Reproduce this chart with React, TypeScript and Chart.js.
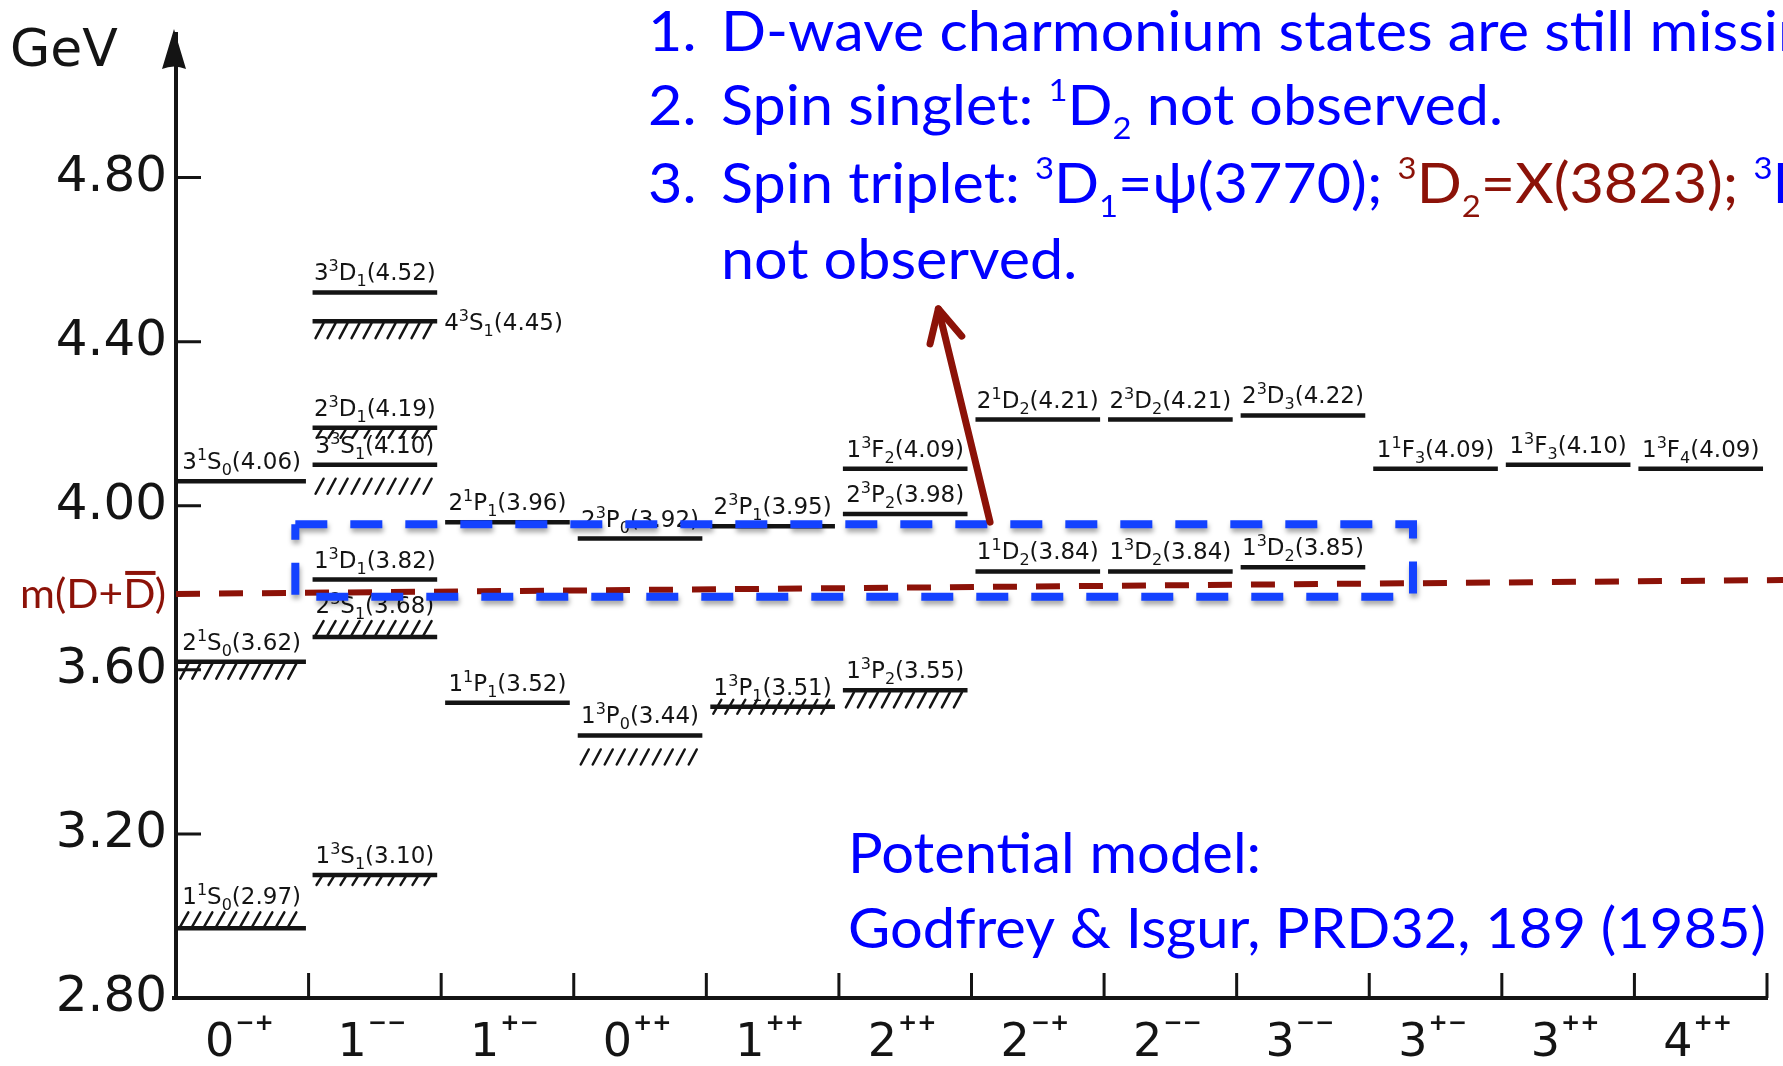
import React, { useEffect, useRef } from "react";
import { Chart, registerables } from "chart.js";

Chart.register(...registerables);

// ---------- data ----------
const jpcNumbers = ["0", "1", "1", "0", "1", "2", "2", "2", "3", "3", "3", "4"];
const jpcSigns = ["−+", "−−", "+−", "++", "++", "++", "−+", "−−", "−−", "+−", "++", "++"];

const yTickValues = [2.8, 3.2, 3.6, 4.0, 4.4, 4.8];
const yTickLabels = ["2.80", "3.20", "3.60", "4.00", "4.40", "4.80"];
const yAxisMax = 5.15;

const levelColumns = [0, 0, 0, 1, 1, 1, 1, 1, 1, 1, 2, 2, 3, 3, 4, 4, 5, 5, 5, 6, 6, 7, 7, 8, 8, 9, 10, 11];
const levelMasses = [
  2.97, 3.62, 4.06,
  3.10, 3.68, 3.82, 4.10, 4.19, 4.45, 4.52,
  3.52, 3.96,
  3.44, 3.92,
  3.51, 3.95,
  3.55, 3.98, 4.09,
  3.84, 4.21,
  3.84, 4.21,
  3.85, 4.22,
  4.09, 4.10, 4.09,
];
const levelLabels = [
  "1^1S_0(2.97)", "2^1S_0(3.62)", "3^1S_0(4.06)",
  "1^3S_1(3.10)", "2^3S_1(3.68)", "1^3D_1(3.82)", "3^3S_1(4.10)", "2^3D_1(4.19)", "4^3S_1(4.45)", "3^3D_1(4.52)",
  "1^1P_1(3.52)", "2^1P_1(3.96)",
  "1^3P_0(3.44)", "2^3P_0(3.92)",
  "1^3P_1(3.51)", "2^3P_1(3.95)",
  "1^3P_2(3.55)", "2^3P_2(3.98)", "1^3F_2(4.09)",
  "1^1D_2(3.84)", "2^1D_2(4.21)",
  "1^3D_2(3.84)", "2^3D_2(4.21)",
  "1^3D_2(3.85)", "2^3D_3(4.22)",
  "1^1F_3(4.09)", "1^3F_3(4.10)", "1^3F_4(4.09)",
];
const levelHatch = [
  "above", "below", "none",
  "belowShort", "above", "none", "belowGap", "belowShort", "below", "none",
  "none", "none",
  "belowGap", "none",
  "cross", "none",
  "below", "none", "none",
  "none", "none",
  "none", "none",
  "none", "none",
  "none", "none", "none",
];
const levelLabelSide = levelLabels.map((l) => (l === "4^3S_1(4.45)" ? "right" : "above"));

// m(D + Dbar) threshold (drawn slightly tilted as in the scan)
const thresholdX = [0, 12.13];
const thresholdY = [3.785, 3.819];

// highlighted 1D box and arrow (data units)
const boxX = [0.9, 9.33];
const boxY = [3.778, 3.955];
const arrowX = [6.14, 5.75];
const arrowY = [3.96, 4.48];

// notes
const INK = "#141414";
const BLUE_TEXT = "#0000ff";
const BOX_BLUE = "#1442ff";
const DARK_RED = "#8c1208";

const noteNumbers = ["1.", "2.", "3.", ""];
const noteLines: Array<Array<[string, string]>> = [
  [["D-wave charmonium states are still missing.", BLUE_TEXT]],
  [["Spin singlet: ^1D_2 not observed.", BLUE_TEXT]],
  [["Spin triplet: ^3D_1=ψ(3770); ", BLUE_TEXT], ["^3D_2=X(3823);", DARK_RED], [" ^3D_3", BLUE_TEXT]],
  [["not observed.", BLUE_TEXT]],
];
const modelLines = ["Potential model:", "Godfrey & Isgur, PRD32, 189 (1985)"];
const thresholdLabel = "m(D+D)";

// ---------- rich text helpers ----------
type Seg = { t: string; mode: number };
function parseRich(s: string): Seg[] {
  const out: Seg[] = [];
  for (let i = 0; i < s.length; i++) {
    const c = s[i];
    if ((c === "^" || c === "_") && i + 1 < s.length) {
      out.push({ t: s[i + 1], mode: c === "^" ? 1 : 2 });
      i++;
    } else {
      const last = out[out.length - 1];
      if (last && last.mode === 0) last.t += c;
      else out.push({ t: c, mode: 0 });
    }
  }
  return out;
}
interface RichStyle {
  family: string;
  weight: string;
  size: number;
  small: number;
  rise: number;
  drop: number;
  sx: number;
}
function fontOf(st: RichStyle, small: boolean) {
  return `${st.weight} ${small ? st.small : st.size}px ${st.family}`;
}
function measurePieces(ctx: CanvasRenderingContext2D, pieces: Array<[string, string]>, st: RichStyle) {
  let w = 0;
  for (const [txt] of pieces)
    for (const sg of parseRich(txt)) {
      ctx.font = fontOf(st, sg.mode !== 0);
      w += ctx.measureText(sg.t).width;
    }
  return w;
}
function drawRich(
  ctx: CanvasRenderingContext2D,
  pieces: Array<[string, string]>,
  x: number,
  y: number,
  st: RichStyle,
  align: string
) {
  const w = measurePieces(ctx, pieces, st) * st.sx;
  const start = align === "center" ? x - w / 2 : align === "right" ? x - w : x;
  ctx.save();
  ctx.translate(start, y);
  ctx.scale(st.sx, 1);
  ctx.textBaseline = "alphabetic";
  ctx.textAlign = "left";
  let cx = 0;
  for (const [txt, col] of pieces) {
    ctx.fillStyle = col;
    for (const sg of parseRich(txt)) {
      ctx.font = fontOf(st, sg.mode !== 0);
      const dy = sg.mode === 1 ? -st.rise : sg.mode === 2 ? st.drop : 0;
      ctx.fillText(sg.t, cx, dy);
      cx += ctx.measureText(sg.t).width;
    }
  }
  ctx.restore();
  return w;
}

const labelStyle: RichStyle = { family: '"DejaVu Sans"', weight: "400", size: 23, small: 16, rise: 9, drop: 6, sx: 1.0 };

function levelSpan(c: number): [number, number] {
  return c === 0 ? [0.01, 0.98] : [c + 0.03, c + 0.97];
}

const spectrumPlugin = {
  id: "spectrum",
  beforeDatasetsDraw(chart: any) {
    const { ctx, chartArea } = chart;
    const xs = chart.scales.x;
    const ys = chart.scales.y;
    const axisX = chartArea.left - 2;
    const y0 = ys.getPixelForValue(yTickValues[0]);
    ctx.save();
    ctx.strokeStyle = INK;
    ctx.fillStyle = INK;
    // x axis baseline
    ctx.lineWidth = 4;
    ctx.beginPath();
    ctx.moveTo(axisX - 2, y0);
    ctx.lineTo(xs.getPixelForValue(jpcNumbers.length) + 1, y0);
    ctx.stroke();
    // x ticks (pointing up) at column boundaries
    ctx.lineWidth = 3;
    ctx.beginPath();
    for (let i = 1; i <= jpcNumbers.length; i++) {
      const px = xs.getPixelForValue(i);
      ctx.moveTo(px, y0);
      ctx.lineTo(px, y0 - 25);
    }
    // y ticks pointing inward
    for (let i = 1; i < yTickValues.length; i++) {
      const py = ys.getPixelForValue(yTickValues[i]);
      ctx.moveTo(axisX, py);
      ctx.lineTo(axisX + 27, py);
    }
    ctx.stroke();
    // arrow head on the y axis
    const top = ys.getPixelForValue(yAxisMax);
    ctx.beginPath();
    ctx.moveTo(axisX, top - 5);
    ctx.lineTo(axisX - 12, top + 35);
    ctx.quadraticCurveTo(axisX, top + 30, axisX + 12, top + 35);
    ctx.closePath();
    ctx.fill();
    // axis title
    ctx.font = '400 52px "DejaVu Sans"';
    ctx.textAlign = "left";
    ctx.textBaseline = "alphabetic";
    ctx.fillText("GeV", 10, 66);
    // x labels (J^PC)
    for (let i = 0; i < jpcNumbers.length; i++) {
      const cx = xs.getPixelForValue(i + 0.5);
      ctx.font = '400 46px "DejaVu Sans"';
      const w1 = ctx.measureText(jpcNumbers[i]).width;
      ctx.font = 'bold 23px "DejaVu Sans"';
      const w2 = ctx.measureText(jpcSigns[i]).width;
      const sx0 = cx - (w1 + 1 + w2) / 2 - 3;
      ctx.font = '400 46px "DejaVu Sans"';
      ctx.fillText(jpcNumbers[i], sx0, 1056);
      ctx.font = 'bold 23px "DejaVu Sans"';
      ctx.fillText(jpcSigns[i], sx0 + w1 + 1, 1030);
    }
    // hatches + level labels
    ctx.lineWidth = 2.5;
    ctx.lineCap = "round";
    for (let i = 0; i < levelColumns.length; i++) {
      const [a, b] = levelSpan(levelColumns[i]);
      const x0 = xs.getPixelForValue(a);
      const x1 = xs.getPixelForValue(b);
      const py = ys.getPixelForValue(levelMasses[i]);
      const kind = levelHatch[i];
      if (kind !== "none") {
        ctx.beginPath();
        for (let px = x0 + 3; px < x1 - 8; px += 12) {
          if (kind === "below") {
            ctx.moveTo(px, py + 17);
            ctx.lineTo(px + 8, py + 2);
          } else if (kind === "belowShort") {
            ctx.moveTo(px + 1, py + 10);
            ctx.lineTo(px + 6, py + 2);
          } else if (kind === "belowGap") {
            ctx.moveTo(px, py + 29);
            ctx.lineTo(px + 8, py + 14);
          } else if (kind === "above") {
            ctx.moveTo(px, py - 2);
            ctx.lineTo(px + 8, py - 16);
          } else {
            ctx.moveTo(px, py + 7);
            ctx.lineTo(px + 8, py - 7);
          }
        }
        ctx.stroke();
      }
      if (levelLabelSide[i] === "right") {
        drawRich(ctx, [[levelLabels[i], INK]], x1 + 7, py + 9, labelStyle, "left");
      } else {
        const gap = kind === "above" ? 24 : 12;
        drawRich(ctx, [[levelLabels[i], INK]], (x0 + x1) / 2, py - gap, labelStyle, "center");
      }
    }
    ctx.restore();
  },
  beforeDatasetDraw(chart: any, args: any) {
    if (args.index === 2) {
      const ctx = chart.ctx;
      ctx.save();
      ctx.shadowColor = "rgba(0,0,0,0.35)";
      ctx.shadowBlur = 5;
      ctx.shadowOffsetX = 1;
      ctx.shadowOffsetY = 4;
    }
  },
  afterDatasetDraw(chart: any, args: any) {
    if (args.index === 2) chart.ctx.restore();
  },
  afterDatasetsDraw(chart: any) {
    const { ctx } = chart;
    const xs = chart.scales.x;
    const ys = chart.scales.y;
    ctx.save();
    // arrow head
    const tx = xs.getPixelForValue(arrowX[1]);
    const ty = ys.getPixelForValue(arrowY[1]);
    const bx = xs.getPixelForValue(arrowX[0]);
    const by = ys.getPixelForValue(arrowY[0]);
    const ang = Math.atan2(by - ty, bx - tx);
    const len = 36;
    const spread = (27 * Math.PI) / 180;
    ctx.strokeStyle = DARK_RED;
    ctx.lineWidth = 7;
    ctx.lineCap = "round";
    ctx.lineJoin = "round";
    ctx.beginPath();
    ctx.moveTo(tx + len * Math.cos(ang + spread), ty + len * Math.sin(ang + spread));
    ctx.lineTo(tx, ty);
    ctx.lineTo(tx + len * Math.cos(ang - spread), ty + len * Math.sin(ang - spread));
    ctx.stroke();

    // blue notes (top block calibrated on line 2, bottom block on the reference line)
    ctx.font = "400 56px Lato";
    const sxBottom = 918 / ctx.measureText(modelLines[1]).width;
    const baseStyle: RichStyle = { family: "Lato", weight: "400", size: 56, small: 31, rise: 24, drop: 14, sx: 1 };
    const sxTop = 782 / measurePieces(ctx, noteLines[1], baseStyle);
    const topStyle: RichStyle = { ...baseStyle, sx: sxTop };
    const bottomStyle: RichStyle = { ...baseStyle, sx: sxBottom };
    const baselines = [51, 125, 203, 279];
    for (let i = 0; i < noteLines.length; i++) {
      if (noteNumbers[i]) drawRich(ctx, [[noteNumbers[i], BLUE_TEXT]], 648, baselines[i], topStyle, "left");
      drawRich(ctx, noteLines[i], 721, baselines[i], topStyle, "left");
    }
    drawRich(ctx, [[modelLines[0], BLUE_TEXT]], 848, 873, bottomStyle, "left");
    drawRich(ctx, [[modelLines[1], BLUE_TEXT]], 848, 948, bottomStyle, "left");

    // threshold label m(D+Dbar)
    ctx.font = "400 40px Lato";
    const wl = ctx.measureText(thresholdLabel).width;
    const lsx = 146 / wl;
    const lst: RichStyle = { family: "Lato", weight: "400", size: 40, small: 24, rise: 0, drop: 0, sx: lsx };
    const ly = ys.getPixelForValue(thresholdY[0]) + 14;
    drawRich(ctx, [[thresholdLabel, DARK_RED]], 20, ly, lst, "left");
    ctx.font = "400 40px Lato";
    const pre = ctx.measureText("m(D+").width * lsx;
    const dW = ctx.measureText("D").width * lsx;
    ctx.strokeStyle = DARK_RED;
    ctx.lineWidth = 4;
    ctx.lineCap = "butt";
    ctx.beginPath();
    ctx.moveTo(20 + pre + 2, ly - 35);
    ctx.lineTo(20 + pre + dW, ly - 35);
    ctx.stroke();
    ctx.restore();
  },
};

export default function App() {
  const ref = useRef<HTMLCanvasElement>(null);
  useEffect(() => {
    const canvas = ref.current;
    if (!canvas) return;
    const levelData: any[] = [];
    levelColumns.forEach((c, i) => {
      const [a, b] = levelSpan(c);
      levelData.push({ x: a, y: levelMasses[i] }, { x: b, y: levelMasses[i] }, { x: b, y: null });
    });
    const boxData = [
      { x: boxX[0], y: boxY[1] },
      { x: boxX[1], y: boxY[1] },
      { x: boxX[1], y: boxY[0] },
      { x: boxX[0], y: boxY[0] },
      { x: boxX[0], y: boxY[1] },
    ];
    const chart = new Chart(canvas, {
      type: "line",
      data: {
        datasets: [
          {
            label: "levels",
            data: levelData,
            borderColor: INK,
            borderWidth: 4.5,
            pointRadius: 0,
            spanGaps: false,
            tension: 0,
            order: 4,
          } as any,
          {
            label: "m(D+Dbar)",
            data: thresholdX.map((x, i) => ({ x, y: thresholdY[i] })),
            borderColor: DARK_RED,
            borderWidth: 6,
            borderDash: [24, 19],
            pointRadius: 0,
            clip: false,
            order: 3,
          } as any,
          {
            label: "1D box",
            data: boxData,
            borderColor: BOX_BLUE,
            borderWidth: 8,
            borderDash: [32, 23],
            borderJoinStyle: "miter",
            pointRadius: 0,
            clip: false,
            order: 2,
          } as any,
          {
            label: "arrow",
            data: arrowX.map((x, i) => ({ x, y: arrowY[i] })),
            borderColor: DARK_RED,
            borderWidth: 7,
            borderCapStyle: "round",
            pointRadius: 0,
            clip: false,
            order: 1,
          } as any,
        ],
      },
      options: {
        animation: false,
        responsive: false,
        devicePixelRatio: 1,
        events: [],
        layout: { padding: { left: 0, right: 16, top: 30, bottom: 68 } },
        plugins: { legend: { display: false }, tooltip: { enabled: false } },
        scales: {
          x: { type: "linear", min: 0, max: jpcNumbers.length, display: false },
          y: {
            type: "linear",
            min: yTickValues[0],
            max: yAxisMax,
            position: "left",
            afterFit: (s: any) => {
              s.width = 176;
            },
            afterBuildTicks: (s: any) => {
              s.ticks = yTickValues.map((v) => ({ value: v }));
            },
            grid: { display: true, drawOnChartArea: false, drawTicks: false },
            border: { display: true, color: INK, width: 4 },
            ticks: {
              color: INK,
              padding: 9,
              font: { family: '"DejaVu Sans"', size: 50, weight: "400", lineHeight: 1 } as any,
              callback: (v: any) => {
                const k = yTickValues.findIndex((t) => Math.abs(t - Number(v)) < 1e-6);
                return k >= 0 ? yTickLabels[k] : "";
              },
            },
          } as any,
        },
      },
      plugins: [spectrumPlugin as any],
    });
    return () => chart.destroy();
  }, []);
  return (
    <div style={{ position: "absolute", left: 0, top: 0, width: 1783, height: 1066, background: "#fff", overflow: "hidden" }}>
      <canvas ref={ref} width={1783} height={1066} style={{ display: "block", width: 1783, height: 1066 }} />
    </div>
  );
}
